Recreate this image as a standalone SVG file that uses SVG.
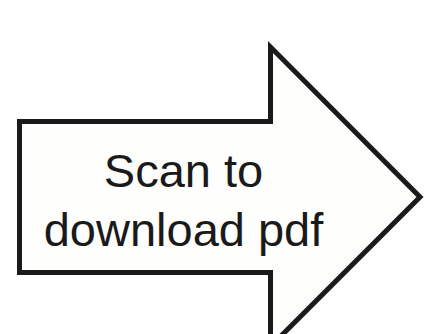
<svg xmlns="http://www.w3.org/2000/svg" width="446" height="334" viewBox="0 0 446 334">
<style>
.arrow{fill:#fefefd;stroke:#1a1a1a;stroke-width:5;stroke-linejoin:miter;stroke-miterlimit:10}
.lbl{font-family:"Liberation Sans",Arial,sans-serif;font-size:47px;fill:#1a1a1a;text-anchor:middle}
</style>
<rect width="446" height="334" fill="#ffffff"/>
<g id="arrow">
<path class="arrow" d="M19.5,121.5 H270.5 V47 L420,197 L270.5,346.5 V272.5 H19.5 Z"/>
<text class="lbl" x="183.5" y="186.5">Scan to</text>
<text class="lbl" x="183.5" y="245.5">download pdf</text>
</g>
</svg>
